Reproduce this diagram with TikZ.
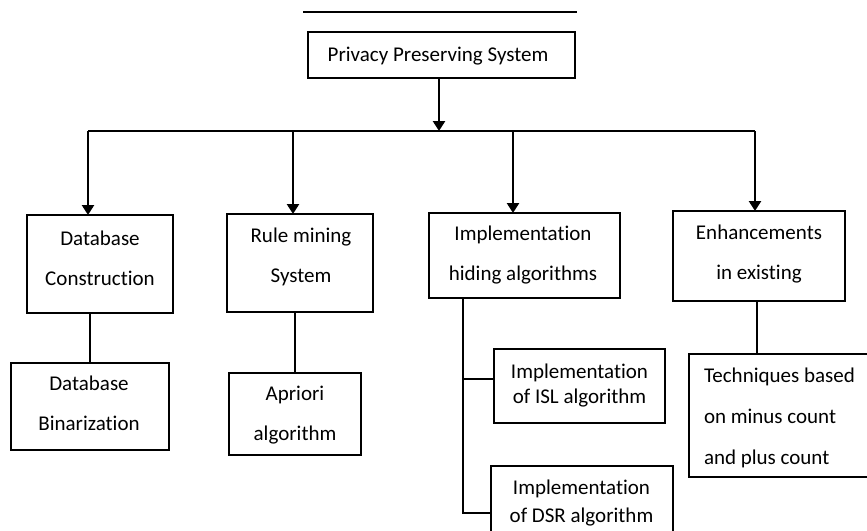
\documentclass[tikz,border=0pt]{standalone}
\usepackage{fontspec}
\setmainfont[Ligatures=NoCommon]{Carlito}
\usetikzlibrary{arrows.meta}
\newcommand{\mystrut}{\rule[-16pt]{0pt}{32pt}}
\newcommand{\nolsk}{\lineskiplimit=-100pt\relax}
\begin{document}
\begin{tikzpicture}[x=1pt,y=-1pt,
  box/.style={draw=black, line width=1.2pt, inner sep=0pt, outer sep=0pt},
  lbl/.style={inner sep=0pt, outer sep=0pt, align=center, text=black,
    font=\fontsize{21}{40}\selectfont\nolsk},
  tightlbl/.style={lbl, font=\fontsize{21}{26}\selectfont\nolsk},
  link/.style={draw=black, line width=1.2pt},
  bigarrow/.style={draw=black, line width=2.6pt, -{Triangle[width=12pt,length=10pt]}}
]
\useasboundingbox (0,0) rectangle (867,530);
\clip (0,0) rectangle (867,530);

% top rule
\coordinate (tl1) at (303,12);
\coordinate (tl2) at (577,12);
\draw[line width=1.4pt] (tl1) -- (tl2);

% boxes
\node[box, minimum width=267pt, minimum height=46pt] (top) at (441.5,55) {};
\node[lbl] (ttop) at (438,61) {\mystrut Privacy Preserving System};

\node[box, minimum width=146pt, minimum height=98pt] (db) at (100,264) {};
\node[lbl] (tdb) at (100,265) {\mystrut Database\\\mystrut Construction};

\node[box, minimum width=146pt, minimum height=98pt] (rm) at (300,263) {};
\node[lbl] (trm) at (301,262.5) {\mystrut Rule mining\\\mystrut System};

\node[box, minimum width=191pt, minimum height=85pt] (ih) at (524.5,255.5) {};
\node[lbl] (tih) at (523,260) {\mystrut Implementation\\\mystrut hiding algorithms};

\node[box, minimum width=172pt, minimum height=90pt] (en) at (759,256) {};
\node[lbl] (ten) at (759,259) {\mystrut Enhancements\\\mystrut in existing};

\node[box, minimum width=158pt, minimum height=87pt] (bin) at (90,406.5) {};
\node[lbl] (tbin) at (89,410) {\mystrut Database\\\mystrut Binarization};

\node[box, minimum width=132pt, minimum height=82pt] (ap) at (295,414) {};
\node[lbl] (tap) at (295,420.5) {\mystrut Apriori\\\mystrut algorithm};

\node[box, minimum width=171pt, minimum height=74pt] (isl) at (579.5,386) {};
\node[tightlbl, font=\fontsize{21}{25}\selectfont\nolsk] (tisl) at (579.5,390.5) {\mystrut Implementation\\\mystrut of ISL algorithm};

\node[box, minimum width=182pt, minimum height=74pt] (dsr) at (582,503) {};
\node[tightlbl, font=\fontsize{21}{28}\selectfont\nolsk] (tdsr) at (581.5,508) {\mystrut Implementation\\\mystrut of DSR algorithm};

\node[box, minimum width=191pt, minimum height=123pt] (tech) at (784.5,415.5) {};
\node[lbl, align=left, font=\fontsize{21}{41}\selectfont\nolsk, anchor=west] (ttech) at (704,423)
  {\mystrut Techniques based\\\mystrut on minus count\\\mystrut and plus count};

% main distribution
\coordinate (j0) at (439,131);
\coordinate (b1) at (88,131);
\coordinate (b2) at (293,131);
\coordinate (b3) at (513,131);
\coordinate (b4) at (755,131);
\draw[bigarrow] (top.south -| j0) -- (j0);
\draw[link] (b1) -- (b4);
\draw[bigarrow] (b1) -- (b1 |- db.north);
\draw[bigarrow] (b2) -- (b2 |- rm.north);
\draw[bigarrow] (b3) -- (b3 |- ih.north);
\draw[bigarrow] (b4) -- (b4 |- en.north);

% second level links
\draw[link] (bin.north) -- (bin.north |- db.south);
\draw[link] (ap.north) -- (ap.north |- rm.south);
\coordinate (k1) at (463,379);
\coordinate (k2) at (463,513);
\draw[link] (ih.south -| k1) -- (k2) -- (k2 -| dsr.west);
\draw[link] (k1) -- (k1 -| isl.west);
\coordinate (e1) at (757,301);
\draw[link] (en.south -| e1) -- (e1 |- tech.north);
\end{tikzpicture}
\end{document}
